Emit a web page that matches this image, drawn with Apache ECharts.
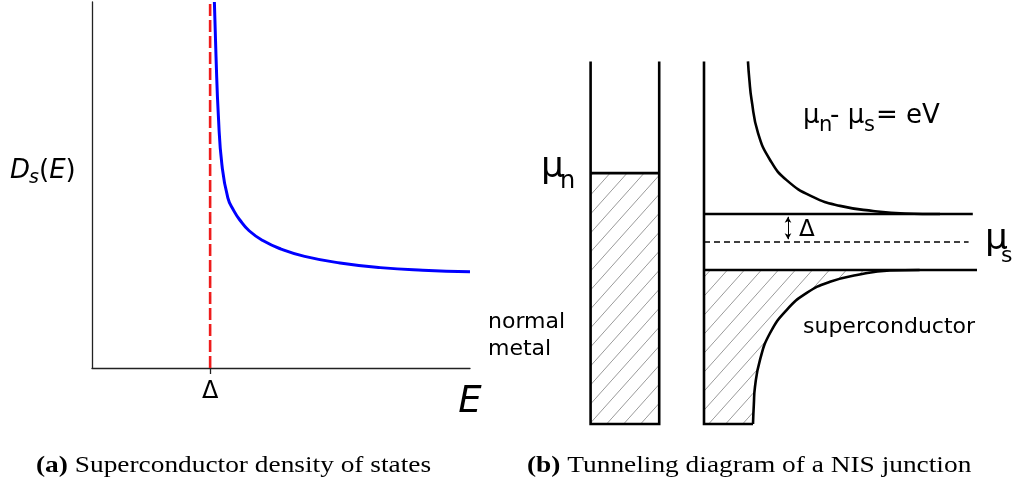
<!DOCTYPE html>
<html>
<head>
<meta charset="utf-8">
<script src="https://cdn.jsdelivr.net/npm/echarts@6/dist/echarts.min.js"></script>
<style>
  html, body { margin: 0; padding: 0; background: #ffffff; }
  #chart { width: 1024px; height: 491px; }
</style>
</head>
<body>
<div id="chart"></div>
<script>
// ---- (a) superconductor density of states; energy in units of the gap Δ ----
const dosEnergy = [1.036, 1.05, 1.07, 1.10, 1.15, 1.20, 1.25, 1.33, 1.45, 1.60, 1.80, 2.10,  2.44,  2.80,  3.20];
const dosValue  = [4.0,   3.4,  2.75, 2.22, 1.86, 1.72, 1.62, 1.50, 1.39, 1.30, 1.22, 1.148, 1.097, 1.068, 1.052];
const gapEnergy = 1;
const gapTickLabel = 'Δ';

// ---- (b) NIS tunnelling diagram; energy in units of Δ measured from μs ----
const bandTop = 6.45;
const bandBottom = -6.5;
const muN = 2.46;
const metalEdges = [-4.05, -1.6];          // normal-metal box, left / right
const scEdge = 0;                          // superconductor box, left edge
const scBottomEnd = 1.75;
const gapLineEnds = [9.6, 9.75];           // upper (+Δ) and lower (−Δ) lines
const muSLineEnd = 9.45;
const upperDosX = [1.57, 1.62, 1.70, 1.93, 2.36, 2.95, 3.89, 4.86, 6.04, 7.18, 8.43];
const upperDosE = [6.45, 5.8,  5.07, 3.89, 2.93, 2.21, 1.61, 1.29, 1.11, 1.02, 1.0];
const lowerDosX = [1.75, 1.78, 1.82, 2.0,  2.36,  2.95,  3.67,  4.5,   5.46,  6.64,  7.7];
const lowerDosE = [-6.5, -5.8, -5.18, -4.21, -3.25, -2.43, -1.82, -1.42, -1.18, -1.02, -1.0];
const arrowX = 3.0;

const pairs = (xs, ys) => xs.map((x, i) => [x, ys[i]]);

// diagonal hatching used for the filled states
function makeHatch() {
  const w = 17, h = 19;
  const c = document.createElement('canvas');
  c.width = w; c.height = h;
  const g = c.getContext('2d');
  g.strokeStyle = '#9a9a9a';
  g.lineWidth = 1;
  g.beginPath();
  g.moveTo(-w * 0.5, h * 1.5);
  g.lineTo(w * 1.5, -h * 0.5);
  g.stroke();
  return c;
}
const hatch = { image: makeHatch(), repeat: 'repeat' };

// filled regions: metal below μn, superconductor below −Δ
const metalFill = [[metalEdges[0], muN], [metalEdges[1], muN], [metalEdges[1], bandBottom], [metalEdges[0], bandBottom]];
const scFill = [[scEdge, -1]].concat(pairs(lowerDosX, lowerDosE).reverse()).concat([[scEdge, bandBottom]]);

const chart = echarts.init(document.getElementById('chart'), null, { renderer: 'canvas' });

const blackLine = (data, extra) => Object.assign({
  type: 'line', xAxisIndex: 1, yAxisIndex: 1, data: data,
  showSymbol: false, symbol: 'none', silent: true, z: 3,
  lineStyle: { color: '#000', width: 2.6, join: 'miter', cap: 'butt' },
  animation: false
}, extra || {});

const sans = 'DejaVu Sans';
const serif = 'Liberation Serif';

// one piece of label text, left aligned, vertically centred on y
const txt = (text, x, y, size, extra) => ({
  type: 'text', x: x, y: y, silent: true,
  style: Object.assign({ text: text, fontFamily: sans, fontSize: size, fill: '#000', align: 'left', verticalAlign: 'middle' }, extra || {})
});

const option = {
  backgroundColor: '#ffffff',
  animation: false,
  grid: [
    { left: 92, top: 2, width: 378, height: 366, containLabel: false, outerBoundsMode: 'none' },
    { left: 508, top: 46, width: 504, height: 392, containLabel: false, outerBoundsMode: 'none' }
  ],
  xAxis: [
    {
      type: 'value', gridIndex: 0, min: 0, max: 3.2,
      axisLine: { show: true, onZero: false, lineStyle: { color: '#222', width: 1.3 } },
      axisTick: { show: true, customValues: [gapEnergy], length: 6, lineStyle: { color: '#222', width: 1.3 } },
      axisLabel: { show: true, customValues: [gapEnergy], formatter: () => gapTickLabel, margin: 12,
                   color: '#000', fontSize: 24, fontFamily: sans },
      splitLine: { show: false }
    },
    { type: 'value', gridIndex: 1, min: -7, max: 11, show: false }
  ],
  yAxis: [
    {
      type: 'value', gridIndex: 0, min: 0, max: 4,
      axisLine: { show: true, onZero: false, lineStyle: { color: '#222', width: 1.3 } },
      axisTick: { show: false }, axisLabel: { show: false }, splitLine: { show: false }
    },
    { type: 'value', gridIndex: 1, min: -7, max: 7, show: false }
  ],
  series: [
    // gap position
    {
      type: 'line', xAxisIndex: 0, yAxisIndex: 0, data: [[gapEnergy, 0], [gapEnergy, 4]],
      showSymbol: false, symbol: 'none', silent: true, z: 2,
      lineStyle: { color: '#ee1c1c', width: 2.6, type: [12, 4] }
    },
    // D_s(E)
    {
      type: 'line', xAxisIndex: 0, yAxisIndex: 0, data: pairs(dosEnergy, dosValue),
      smooth: 0.5, showSymbol: false, symbol: 'none', silent: true, z: 3,
      lineStyle: { color: '#0000ff', width: 3 }
    },
    // hatched occupied states
    {
      type: 'custom', xAxisIndex: 1, yAxisIndex: 1, data: [[0, 0]], silent: true, z: 1,
      renderItem: (params, api) => ({
        type: 'group',
        children: [metalFill, scFill].map(poly => ({
          type: 'polygon',
          shape: { points: poly.map(p => api.coord(p)), smooth: 0 },
          style: { fill: hatch, stroke: null }
        }))
      })
    },
    // normal-metal box and its Fermi level
    blackLine([[metalEdges[0], bandTop], [metalEdges[0], bandBottom], [metalEdges[1], bandBottom], [metalEdges[1], bandTop]]),
    blackLine([[metalEdges[0], muN], [metalEdges[1], muN]]),
    // superconductor box
    blackLine([[scEdge, bandTop], [scEdge, bandBottom], [scBottomEnd, bandBottom]]),
    blackLine([[scEdge, 1], [gapLineEnds[0], 1]]),
    blackLine([[scEdge, -1], [gapLineEnds[1], -1]]),
    // quasiparticle density of states above and below the gap
    blackLine(pairs(upperDosX, upperDosE), { smooth: 0.5 }),
    blackLine(pairs(lowerDosX, lowerDosE), { smooth: 0.5 }),
    // μs level with the Δ arrow
    blackLine([[scEdge, 0], [muSLineEnd, 0]], {
      lineStyle: { color: '#000', width: 1.5, type: [6, 4] },
      markLine: {
        silent: true, animation: false,
        symbol: ['arrow', 'arrow'], symbolSize: [5, 6],
        label: { show: false },
        lineStyle: { color: '#000', width: 1, type: 'solid' },
        emphasis: { disabled: true },
        data: [[{ coord: [arrowX, 0.1] }, { coord: [arrowX, 0.9] }]]
      }
    })
  ],
  graphic: [
    // panel (a): D_s(E) with a lowered subscript, and the E axis name
    txt('D', 10, 171, 26, { fontStyle: 'italic' }),
    txt('s', 29, 178, 19, { fontStyle: 'italic' }),
    txt('{n|(}{i|E}{n|)}', 39, 171, 26, {
      rich: {
        n: { fontFamily: sans, fontSize: 26, fill: '#000' },
        i: { fontFamily: sans, fontSize: 26, fontStyle: 'italic', fill: '#000' }
      }
    }),
    txt('E', 470, 402, 37, { fontStyle: 'italic', align: 'center' }),

    // panel (b): chemical potentials
    txt('μ', 541, 168, 36),
    txt('n', 560, 182, 24),
    txt('μ', 985, 240, 36),
    txt('s', 1001, 256, 22),
    txt('μ', 803, 116, 26),
    txt('n', 819, 126, 21),
    txt('- μ', 830, 116, 26),
    txt('s', 864, 126, 21),
    txt('= eV', 876, 116, 26),
    txt('Δ', 799, 230, 23),
    txt('superconductor', 803, 327, 22),
    txt('normal\nmetal', 488, 336, 22, { lineHeight: 27 }),

    // sub-figure captions
    {
      type: 'text', x: 36, y: 466, scaleX: 1.14, silent: true,
      style: {
        text: '{b|(a)} Superconductor density of states', align: 'left', verticalAlign: 'middle',
        fontFamily: serif, fontSize: 24, fill: '#000',
        rich: { b: { fontFamily: serif, fontSize: 24, fontWeight: 'bold', fill: '#000' } }
      }
    },
    {
      type: 'text', x: 527, y: 466, scaleX: 1.14, silent: true,
      style: {
        text: '{b|(b)} Tunneling diagram of a NIS junction', align: 'left', verticalAlign: 'middle',
        fontFamily: serif, fontSize: 24, fill: '#000',
        rich: { b: { fontFamily: serif, fontSize: 24, fontWeight: 'bold', fill: '#000' } }
      }
    }
  ]
};

chart.setOption(option);
</script>
</body>
</html>
